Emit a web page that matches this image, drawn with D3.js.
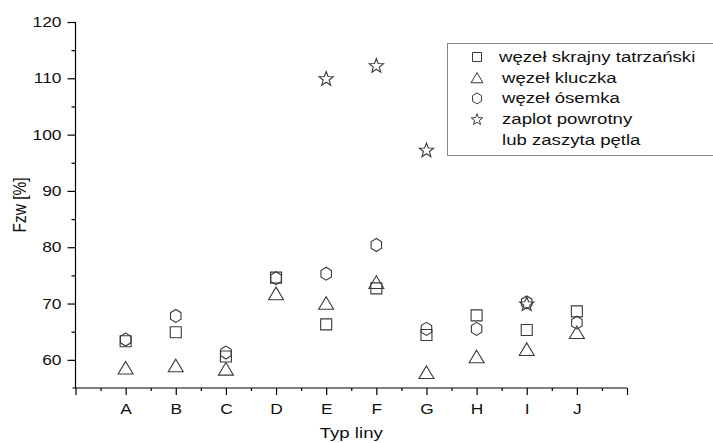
<!DOCTYPE html>
<html>
<head>
<meta charset="utf-8">
<script src="https://cdn.jsdelivr.net/npm/d3@7"></script>
<style>
  html, body { margin: 0; padding: 0; background: #fff; }
  svg { display: block; font-family: "Liberation Sans", Arial, sans-serif; }
</style>
</head>
<body>
<svg id="chart" width="713" height="443"></svg>
<script>
// Line types on the x axis
const categories = ["A", "B", "C", "D", "E", "F", "G", "H", "I", "J"];

// Fzw [%] for each knot type
const wezelSkrajny = [63.3, 64.9, 60.6, 74.6, 66.3, 72.7, 64.4, 67.9, 65.3, 68.6];
const wezelKluczka = [58.6, 59.0, 58.4, 71.8, 70.1, 73.8, 57.8, 60.6, 61.9, 64.9];
const wezelOsemka  = [63.6, 67.8, 61.3, 74.5, 75.3, 80.4, 65.5, 65.5, 70.2, 66.6];
const zaplot       = [null, null, null, null, 110.0, 112.3, 97.3, null, 70.0, null];

const yMajorTicks = [60, 70, 80, 90, 100, 110, 120];
const yMinorTicks = [65, 75, 85, 95, 105, 115];

const legendLabels = ["węzeł skrajny tatrzański", "węzeł kluczka", "węzeł ósemka", "zaplot powrotny", "lub zaszyta pętla"];

const svg = d3.select("#chart");
const ink = "#3a3a3a";
const stretchX = 1.2;

const x = d3.scaleLinear().domain([0, 11]).range([75.5, 627]);
const y = d3.scaleLinear().domain([55, 120]).range([388, 22]);

// Widen text glyphs horizontally around their anchor point
function widen(sel) {
  sel.each(function () {
    const t = d3.select(this);
    const tx = +t.attr("x") || 0;
    const ty = +t.attr("y") || 0;
    t.attr("x", 0).attr("y", 0)
      .attr("transform", `translate(${tx},${ty}) scale(${stretchX},1)`);
  });
}

// Marker shapes, each centred on its bounding box
const squareSym = {
  draw(ctx, s) { const h = s / 2; ctx.rect(-h, -h, s, s); }
};
const triangleSym = {
  draw(ctx, s) {
    const w = s, h = s * 0.84;
    ctx.moveTo(0, -h / 2); ctx.lineTo(w / 2, h / 2); ctx.lineTo(-w / 2, h / 2); ctx.closePath();
  }
};
const hexSym = {
  draw(ctx, s) {
    const r = s / 2;
    for (let i = 0; i < 6; i++) {
      const a = Math.PI / 2 + i * Math.PI / 3;
      const px = r * Math.cos(a) * 0.93, py = -r * Math.sin(a);
      if (i === 0) ctx.moveTo(px, py); else ctx.lineTo(px, py);
    }
    ctx.closePath();
  }
};
const starSym = {
  draw(ctx, s) {
    const R = s / 2, r = R * 0.42;
    for (let i = 0; i < 10; i++) {
      const rad = i % 2 === 0 ? R : r;
      const a = -Math.PI / 2 + i * Math.PI / 5;
      const px = rad * Math.cos(a), py = rad * Math.sin(a) + R * 0.1;
      if (i === 0) ctx.moveTo(px, py); else ctx.lineTo(px, py);
    }
    ctx.closePath();
  }
};

const series = [
  { values: wezelSkrajny, type: squareSym, size: 11, legendSize: 9 },
  { values: wezelKluczka, type: triangleSym, size: 15, legendSize: 12 },
  { values: wezelOsemka, type: hexSym, size: 13, legendSize: 11 },
  { values: zaplot, type: starSym, size: 15, legendSize: 12 }
];

// Axes
const yAxisG = svg.append("g").attr("transform", `translate(${x(0)},0)`);
yAxisG.call(d3.axisLeft(y).tickValues(yMajorTicks).tickSize(8).tickPadding(6).tickFormat(d3.format("d")));
yAxisG.append("g").call(d3.axisLeft(y).tickValues(yMinorTicks).tickSize(4).tickFormat(""))
  .select(".domain").remove();

const xAxisG = svg.append("g").attr("transform", `translate(0,${y(55)})`);
xAxisG.call(d3.axisBottom(x).tickValues(d3.range(0, 12)).tickSize(7).tickPadding(9)
  .tickFormat(d => (d >= 1 && d <= 10) ? categories[d - 1] : ""));
xAxisG.append("g").call(d3.axisBottom(x).tickValues(d3.range(0.5, 11, 1)).tickSize(3).tickFormat(""))
  .select(".domain").remove();

svg.selectAll(".domain").attr("d", null);
yAxisG.select(".domain").remove();
xAxisG.select(".domain").remove();
svg.append("line").attr("x1", x(0)).attr("x2", x(0)).attr("y1", y(120)).attr("y2", y(55) + 0.5)
  .attr("stroke", "#000").attr("stroke-width", 1.2);
svg.append("line").attr("x1", x(0) - 3).attr("x2", x(11)).attr("y1", y(55)).attr("y2", y(55))
  .attr("stroke", "#000").attr("stroke-width", 1.2);

svg.selectAll(".tick line").attr("stroke", "#000").attr("stroke-width", 1.2);
svg.selectAll(".tick text").attr("font-size", 14.5).attr("fill", "#111")
  .style("font-family", "'Liberation Sans', Arial, sans-serif");
widen(svg.selectAll(".tick text"));

// Axis titles
svg.append("text")
  .attr("font-size", 15.5).attr("fill", "#111").attr("text-anchor", "middle")
  .attr("transform", `translate(${(x(0) + x(11)) / 2},438) scale(${stretchX},1)`)
  .text("Typ liny");
svg.append("text")
  .attr("font-size", 15.5).attr("fill", "#111").attr("text-anchor", "middle")
  .attr("dominant-baseline", "central")
  .attr("transform", `translate(20,${(y(55) + y(120)) / 2}) scale(${stretchX},1) rotate(-90)`)
  .text("Fzw [%]");

// Data markers
series.forEach(s => {
  const sym = d3.symbol().type(s.type).size(s.size);
  svg.append("g").selectAll("path")
    .data(s.values.map((v, i) => ({ v, i })).filter(d => d.v !== null))
    .join("path")
    .attr("d", sym)
    .attr("transform", d => `translate(${x(d.i + 1)},${y(d.v)})`)
    .attr("fill", "none")
    .attr("stroke", ink)
    .attr("stroke-width", 1.1);
});

// Legend
const legend = svg.append("g");
legend.append("rect").attr("x", 447.5).attr("y", 43.5).attr("width", 300).attr("height", 112)
  .attr("fill", "#fff").attr("stroke", "#888").attr("stroke-width", 1);
const rowY = i => 57 + i * 20.7;
series.forEach((s, i) => {
  legend.append("path")
    .attr("d", d3.symbol().type(s.type).size(s.legendSize)())
    .attr("transform", `translate(477,${rowY(i)})`)
    .attr("fill", "none").attr("stroke", ink).attr("stroke-width", 1);
});
legendLabels.forEach((label, i) => {
  legend.append("text")
    .attr("font-size", 15.5).attr("fill", "#111").attr("dominant-baseline", "central")
    .attr("transform", `translate(${i === 0 ? 499 : 502},${rowY(i)}) scale(${stretchX},1)`)
    .text(label);
});
</script>
</body>
</html>
